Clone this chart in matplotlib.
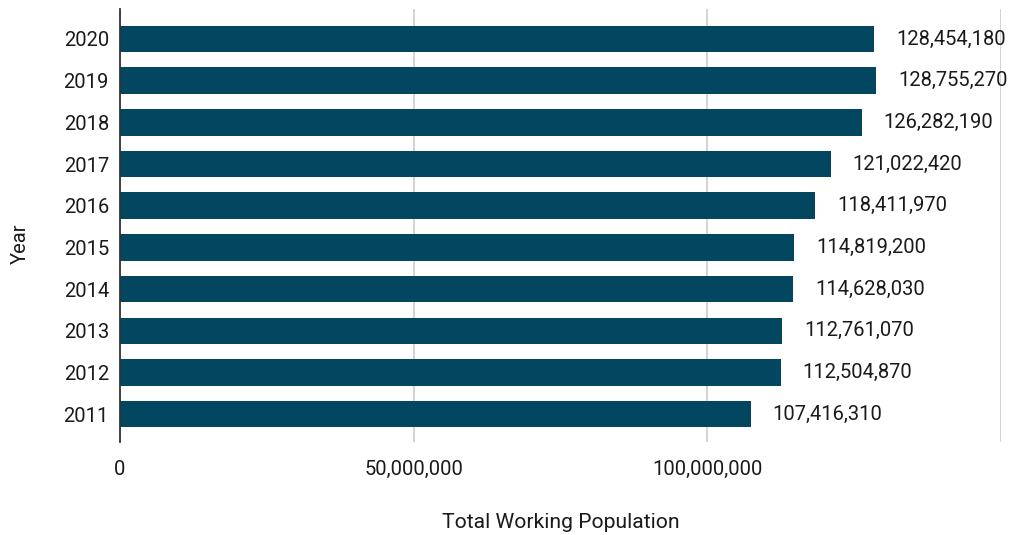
import matplotlib.pyplot as plt
from matplotlib.ticker import FuncFormatter

years = ["2011", "2012", "2013", "2014", "2015", "2016", "2017", "2018", "2019", "2020"]
population = [107416310, 112504870, 112761070, 114628030, 114819200,
              118411970, 121022420, 126282190, 128755270, 128454180]
xticks = [0, 50000000, 100000000, 150000000]

plt.rcParams['font.family'] = ['Roboto', 'DejaVu Sans']
plt.rcParams['font.size'] = 14.5

fig = plt.figure(figsize=(10.16, 5.35), dpi=100)
ax = fig.add_axes([0.1181, 0.1738, 0.8671, 0.8094])

pos = list(range(len(years)))
ax.barh(pos, population, height=0.635, color="#02465f", zorder=3)

for p, v in zip(pos, population):
    ax.annotate(f"{v:,}", (v, p), xytext=(15.8, 0), textcoords="offset points",
                va="center", ha="left", color="#1a1a1a", fontsize=14.5)

ax.set_xlim(0, 150000000)
ax.set_ylim(-0.67, 9.72)
ax.set_yticks(pos)
ax.set_yticklabels(years)
ax.set_xticks(xticks)
ax.xaxis.set_major_formatter(FuncFormatter(lambda x, _: "" if x >= 150000000 else f"{int(x):,}"))
ax.grid(axis="x", color="#cccccc", linewidth=1.2, zorder=0)
ax.tick_params(axis="both", length=0, colors="#1a1a1a")
ax.tick_params(axis="x", pad=13)
ax.tick_params(axis="y", pad=8)

for s in ["top", "right", "bottom"]:
    ax.spines[s].set_visible(False)
ax.spines["left"].set_color("#333333")
ax.spines["left"].set_linewidth(1.3)
ax.spines["left"].set_zorder(4)

fig.text(0.5517, 0.024, "Total Working Population", ha="center", va="center",
         color="#1a1a1a", fontsize=15.2)
fig.text(0.020, 0.545, "Year", ha="center", va="center", rotation=90,
         color="#1a1a1a", fontsize=14.5)

fig.savefig("out.png", dpi=100)
